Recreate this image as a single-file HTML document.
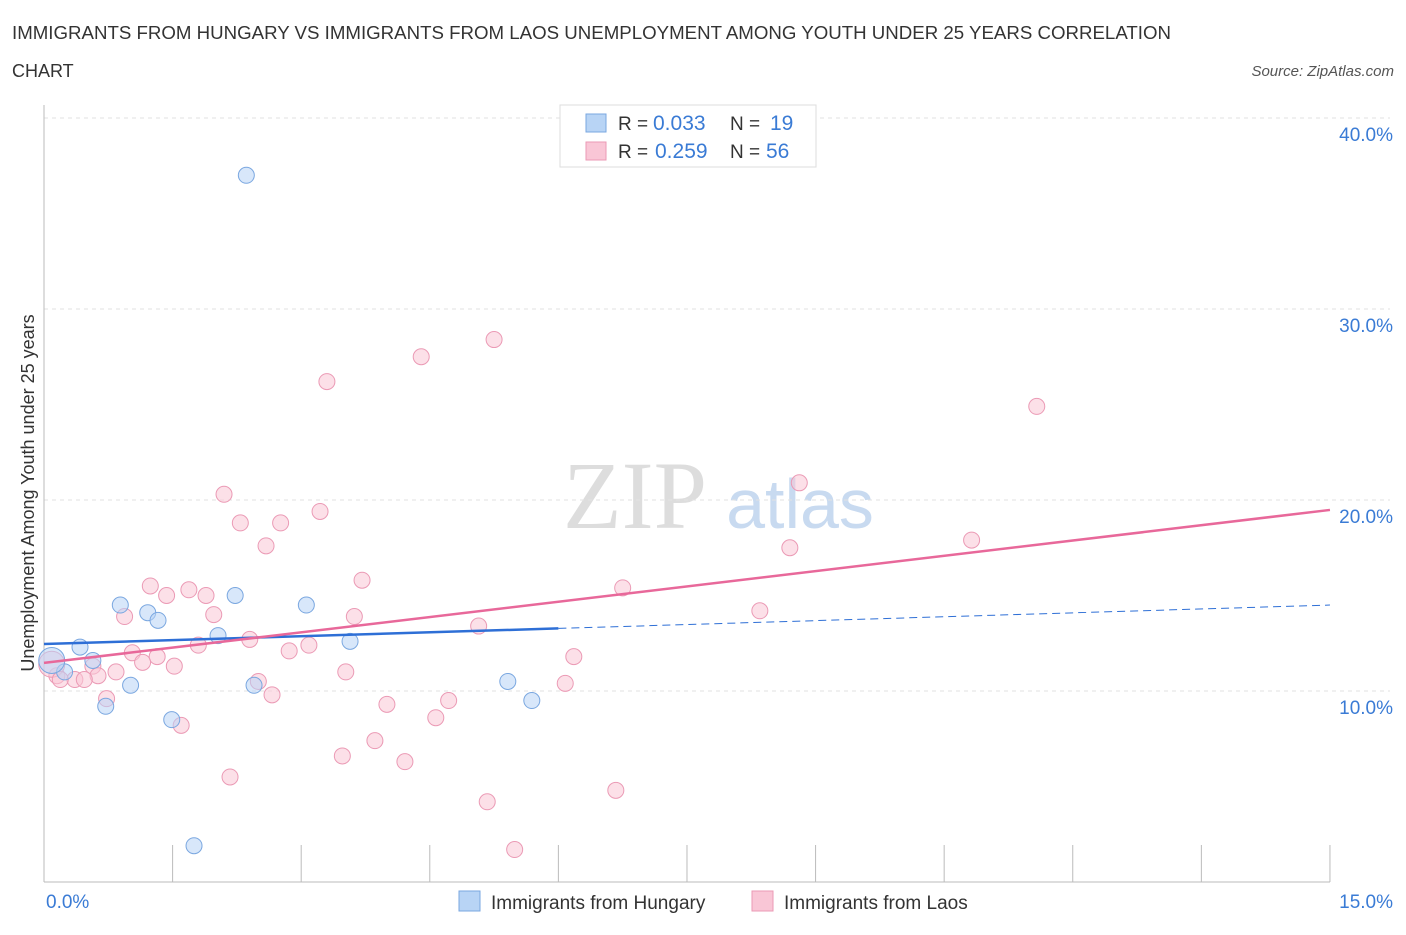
<!DOCTYPE html>
<html><head><meta charset="utf-8"><style>
body{margin:0;background:#fff;font-family:"Liberation Sans",sans-serif;}
</style></head><body>
<svg id="chart" width="1406" height="930" xmlns="http://www.w3.org/2000/svg" font-family="Liberation Sans, sans-serif">
<text x="12" y="39" font-size="18" fill="#333" textLength="1159" lengthAdjust="spacingAndGlyphs">IMMIGRANTS FROM HUNGARY VS IMMIGRANTS FROM LAOS UNEMPLOYMENT AMONG YOUTH UNDER 25 YEARS CORRELATION</text>
<text x="12" y="77" font-size="18" fill="#333">CHART</text>
<text x="1394" y="76" font-size="15" fill="#555" font-style="italic" text-anchor="end">Source: ZipAtlas.com</text>
<text x="635" y="528" font-size="96" fill="#ddd" font-family="Liberation Serif, serif" text-anchor="middle">ZIP</text>
<text x="800" y="528" font-size="70" fill="#c8daf0" text-anchor="middle">atlas</text>
<text transform="translate(34,493) rotate(-90)" font-size="18" fill="#333" text-anchor="middle">Unemployment Among Youth under 25 years</text>
<g id="grid"></g><g id="marks"></g>
<g>
<rect x="560" y="105" width="256" height="62" fill="#fff" stroke="#ddd"/>
<rect x="586" y="114" width="20" height="18" fill="#b8d4f5" stroke="#7aa7e0"/>
<rect x="586" y="142" width="20" height="18" fill="#f9c6d6" stroke="#eb9ab5"/>
<text x="618" y="130" font-size="19" fill="#333">R = <tspan x="653" font-size="21" fill="#3a7bd5">0.033</tspan><tspan x="730">N = </tspan><tspan x="770" font-size="21" fill="#3a7bd5">19</tspan></text>
<text x="618" y="158" font-size="19" fill="#333">R = <tspan x="655" font-size="21" fill="#3a7bd5">0.259</tspan><tspan x="730">N = </tspan><tspan x="766" font-size="21" fill="#3a7bd5">56</tspan></text>
</g>
<g>
<rect x="459" y="891" width="21" height="20" fill="#b8d4f5" stroke="#7aa7e0"/>
<text x="491" y="909" font-size="19" fill="#333">Immigrants from Hungary</text>
<rect x="752" y="891" width="21" height="20" fill="#f9c6d6" stroke="#eb9ab5"/>
<text x="784" y="909" font-size="19" fill="#333">Immigrants from Laos</text>
</g>
</svg>
<script>
const hungaryX=[2.36,0.89,1.21,1.33,0.42,0.57,0.24,0.09,0.72,1.01,1.49,1.75,2.03,2.23,2.45,3.06,3.57,5.41,5.69];
const hungaryY=[37.0,14.5,14.1,13.7,12.3,11.6,11.0,11.6,9.2,10.3,8.5,1.9,12.9,15.0,10.3,14.5,12.6,10.5,9.5];
const laosX=[5.25,4.40,3.30,11.58,8.81,2.10,3.22,2.29,2.76,2.59,8.70,10.82,3.71,1.24,1.69,1.43,1.89,6.75,0.94,1.98,3.62,8.35,5.07,2.40,1.80,3.09,2.86,1.03,1.32,1.15,1.52,0.57,0.84,6.18,3.52,0.63,0.36,0.47,0.15,2.50,6.08,2.66,0.73,4.00,4.72,4.57,1.60,3.86,3.48,4.21,2.17,6.67,5.17,5.49,0.09,0.19];
const laosY=[28.4,27.5,26.2,24.9,20.9,20.3,19.4,18.8,18.8,17.6,17.5,17.9,15.8,15.5,15.3,15.0,15.0,15.4,13.9,14.0,13.9,14.2,13.4,12.7,12.4,12.4,12.1,12.0,11.8,11.5,11.3,11.3,11.0,11.8,11.0,10.8,10.6,10.6,10.8,10.5,10.4,9.8,9.6,9.3,9.5,8.6,8.2,7.4,6.6,6.3,5.5,4.8,4.2,1.7,11.4,10.6];
const yTicks=[10,20,30,40];
const xTicks=[0,1.5,3,4.5,6,7.5,9,10.5,12,13.5,15];
const hungaryTrend=[12.46,14.5];
const laosTrend=[11.47,19.48];
const sx=v=>44+v*85.73, sy=v=>882-v*19.1;
const NS="http://www.w3.org/2000/svg";
function mk(t,a,p){const e=document.createElementNS(NS,t);for(const k in a)e.setAttribute(k,a[k]);p.appendChild(e);return e;}
const g=document.getElementById('grid'), m=document.getElementById('marks');
yTicks.forEach(v=>{
 const l=mk('line',{x1:44,x2:1390,y1:sy(v),y2:sy(v),stroke:'#e2e2e2','stroke-dasharray':'4,4'},g);
 
 
 const t=mk('text',{x:1393,y:sy(v)+23,'font-size':19,fill:'#3a7bd5','text-anchor':'end'},g);
 t.textContent=v.toFixed(1)+'%';
 
 
});
mk('line',{x1:44,x2:44,y1:105,y2:882,stroke:'#bbb'},g);
mk('line',{x1:44,x2:1330,y1:882,y2:882,stroke:'#bbb'},g);
xTicks.forEach(v=>{
 const l=mk('line',{x1:sx(v),x2:sx(v),y1:845,y2:882,stroke:'#bbb'},g);
 
 
});
[[0,'start',46],[15,'end',1393]].forEach(([v,a,x])=>{
 const t=mk('text',{x:x,y:908,'font-size':19,fill:'#3a7bd5','text-anchor':a},g);
 t.textContent=v.toFixed(1)+'%';
 
 
});
laosX.forEach((x,i)=>{
 const c=mk('circle',{cx:sx(x),cy:sy(laosY[i]),r:i==54?13:8,fill:'rgba(249,198,214,0.55)',stroke:'#eb9ab5','stroke-width':1},m);
 
 
});
hungaryX.forEach((x,i)=>{
 const c=mk('circle',{cx:sx(x),cy:sy(hungaryY[i]),r:i==7?13:8,fill:'rgba(184,212,245,0.55)',stroke:'#7aa7e0','stroke-width':1},m);
 
 
});
const hy=x=>hungaryTrend[0]+(hungaryTrend[1]-hungaryTrend[0])*x/15;
let l=mk('line',{x1:sx(0),y1:sy(hy(0)),x2:sx(6),y2:sy(hy(6)),stroke:'#2e6fd6','stroke-width':2.5},m);


l=mk('line',{x1:sx(6),y1:sy(hy(6)),x2:sx(15),y2:sy(hy(15)),stroke:'#2e6fd6','stroke-width':1,'stroke-dasharray':'8,5'},m);


l=mk('line',{x1:sx(0),y1:sy(laosTrend[0]),x2:sx(15),y2:sy(laosTrend[1]),stroke:'#e8689a','stroke-width':2.5},m);


</script>
</body></html>
